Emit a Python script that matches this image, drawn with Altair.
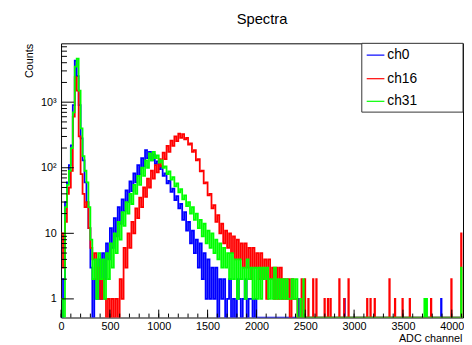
import altair as alt
import pandas as pd

# ---------------- data ----------------
series_names = ["ch0", "ch16", "ch31"]
series_colors = ["#0000ff", "#ff0000", "#00ff00"]
bin_width = 20  # ADC channels per bin, first bin starts at channel 0

ch0_counts = [
    0, 2, 30, 60, 110, 220, 900, 4300, 2500, 900,
    280, 130, 60, 30, 12, 3, 0, 2, 1, 4,
    1, 5, 2, 7, 4, 12, 6, 17, 9, 25,
    14, 33, 22, 45, 30, 62, 44, 82, 60, 110,
    80, 140, 105, 185, 140, 175, 130, 160, 115, 125,
    95, 105, 75, 82, 58, 63, 43, 48, 32, 37,
    24, 28, 16, 21, 11, 15, 7, 11, 5, 8,
    3, 7, 2, 5, 1, 4, 1, 3, 1, 3,
    0, 2, 1, 2, 0, 1, 2, 0, 1, 0,
    2, 1, 0, 1, 2, 0, 1, 1, 0, 1,
]
ch16_counts = [
    10, 3, 15, 40, 50, 90, 600, 2400, 1500, 300,
    80, 40, 25, 30, 12, 6, 4, 5, 2, 3,
    1, 2, 1, 0, 1, 0, 1, 0, 1, 0,
    2, 1, 6, 3, 10, 6, 15, 10, 24, 17,
    35, 25, 50, 36, 68, 50, 90, 68, 110, 85,
    135, 105, 170, 135, 215, 175, 260, 215, 300, 255,
    330, 285, 325, 270, 285, 225, 235, 175, 185, 130,
    135, 88, 90, 58, 60, 38, 40, 24, 27, 15,
    19, 10, 14, 7, 11, 6, 10, 5, 9, 4,
    8, 4, 7, 3, 7, 3, 6, 2, 6, 3,
    5, 2, 5, 2, 4, 1, 4, 2, 3, 1,
    3, 1, 3, 1, 2, 1, 2, 0, 2, 1,
    1, 0,
]
ch31_counts = [
    1, 0, 25, 55, 90, 200, 700, 3500, 4600, 1500,
    400, 150, 90, 60, 25, 8, 2, 4, 1, 5,
    2, 4, 1, 5, 2, 7, 3, 10, 5, 15,
    8, 21, 13, 30, 20, 40, 28, 55, 40, 75,
    55, 100, 75, 130, 100, 165, 130, 175, 140, 155,
    120, 130, 100, 105, 80, 88, 66, 72, 52, 58,
    42, 47, 33, 38, 26, 30, 20, 25, 16, 20,
    12, 16, 9, 14, 7, 11, 6, 10, 5, 8,
    4, 7, 3, 6, 3, 5, 2, 5, 2, 4,
    1, 4, 2, 3, 1, 4, 2, 3, 1, 3,
    1, 3, 1, 3, 2, 3, 1, 2, 1, 3,
    1, 2, 1, 2, 1, 2, 1, 1, 2, 1,
    2, 0,
]

# isolated single-channel hits in the sparse tail: (ADC channel, counts)
ch0_tail = [(2430, 1), (2900, 1), (3890, 1)]
ch16_tail = [
    (2461, 2), (2495, 2), (2530, 1), (2579, 2), (2612, 2), (2696, 1),
    (2730, 1), (2757, 1), (2847, 2), (2897, 1), (2941, 2), (3132, 1),
    (3166, 1), (3209, 1), (3360, 2), (3417, 1), (3494, 1), (3568, 1),
    (3786, 1), (3994, 2), (4095, 10),
]
ch31_tail = [(2450, 1), (2480, 2), (3719, 1), (3742, 1), (4095, 3)]

x_label_values = [0, 500, 1000, 1500, 2000, 2500, 3000, 3500, 4000]
x_minor_values = list(range(0, 4101, 100))
y_label_values = [1, 10, 100, 1000]
y_label_texts = ["1", "10", "10²", "10³"]
y_minor_values = [m * 10 ** e for e in range(0, 4) for m in range(2, 10) if m * 10 ** e < 7900]

# ---------------- layout ----------------
W, H = 409, 279
X_MAX = 4115
Y_DOM = [0.52, 7900]
FONT = "Liberation Sans"
SPIKE = 5

xscale = alt.Scale(domain=[0, X_MAX], nice=False, zero=False)
yscale = alt.Scale(type="log", domain=Y_DOM, nice=False, clamp=True)


def series_frame(counts, tail):
    rows = [(i * bin_width, c) for i, c in enumerate(counts)]
    rows.append((len(counts) * bin_width, 0))
    for a, c in tail:
        rows.append((a, c))
        rows.append((a + SPIKE, 0))
    rows.append((X_MAX, 0))
    df = pd.DataFrame(rows, columns=["adc", "count"])
    df["y"] = df["count"].clip(lower=0.3)
    return df


label_expr = "".join(
    f"datum.value == {v} ? '{t}' : " for v, t in zip(y_label_values, y_label_texts)
) + "''"

x_axis = alt.Axis(
    values=x_label_values, format="d", ticks=False, domain=False, grid=False,
    labelFont=FONT, labelFontSize=11, labelColor="black", labelPadding=3,
    labelFlush=False, labelOverlap=False,
    title="ADC channel", titleFont=FONT, titleFontSize=11, titleFontWeight="normal",
    titleColor="black", titleAnchor="end", titleAlign="right",
    titleBaseline="alphabetic", titleX=W - 1, titleY=24,
)
y_axis = alt.Axis(
    values=y_label_values, labelExpr=label_expr, ticks=False, domain=False, grid=False,
    labelFont=FONT, labelFontSize=11, labelColor="black", labelPadding=5,
    labelOverlap=False, labelFlush=False,
    title="Counts", titleFont=FONT, titleFontSize=11, titleFontWeight="normal",
    titleColor="black", titleAngle=270, titleAlign="right", titleBaseline="alphabetic",
    titleX=-29, titleY=0,
)

X = lambda f: alt.X(f, scale=xscale, axis=x_axis)
Y = lambda f: alt.Y(f, scale=yscale, axis=y_axis)

layers = []
for name, color, counts, tail in zip(
    series_names, series_colors, [ch0_counts, ch16_counts, ch31_counts],
    [ch0_tail, ch16_tail, ch31_tail],
):
    df = series_frame(counts, tail)
    layers.append(
        alt.Chart(df).mark_line(
            interpolate="step-after", color=color, strokeWidth=1.8, clip=True
        ).encode(x=X("adc:Q"), y=Y("y:Q"), order="adc:Q")
    )

# inward ticks (ROOT style)
xmaj = alt.Chart(pd.DataFrame({"adc": x_label_values})).mark_rule(color="black", strokeWidth=1).encode(
    x=X("adc:Q"), y=alt.value(H), y2=alt.value(H - 8))
xmin = alt.Chart(pd.DataFrame({"adc": x_minor_values})).mark_rule(color="black", strokeWidth=1).encode(
    x=X("adc:Q"), y=alt.value(H), y2=alt.value(H - 4))
ymaj = alt.Chart(pd.DataFrame({"y": y_label_values})).mark_rule(color="black", strokeWidth=1).encode(
    y=Y("y:Q"), x=alt.value(0), x2=alt.value(13))
ymin = alt.Chart(pd.DataFrame({"y": y_minor_values})).mark_rule(color="black", strokeWidth=1).encode(
    y=Y("y:Q"), x=alt.value(0), x2=alt.value(6))

# legend box (ROOT TLegend style)
LX0, LX1, LY0, LY1 = 306, 409, 0, 70
row_y = [12, 36, 59]
legend_layers = [
    alt.Chart(pd.DataFrame({"a": [0]})).mark_rect(fill="white", stroke="#333333", strokeWidth=1).encode(
        x=alt.value(LX0), x2=alt.value(LX1), y=alt.value(LY0), y2=alt.value(LY1))
]
for name, color, ry in zip(series_names, series_colors, row_y):
    d = pd.DataFrame({"name": [name]})
    legend_layers.append(
        alt.Chart(d).mark_rule(color=color, strokeWidth=1.2).encode(
            x=alt.value(LX0 + 5), x2=alt.value(LX0 + 23), y=alt.value(ry))
    )
    legend_layers.append(
        alt.Chart(d).mark_text(align="left", baseline="middle", font=FONT, fontSize=14, color="black").encode(
            x=alt.value(LX0 + 26), y=alt.value(ry), text="name:N")
    )

chart = alt.layer(
    *layers, xmin, xmaj, ymin, ymaj, *legend_layers
).properties(
    width=W, height=H,
    title=alt.TitleParams("Spectra", font=FONT, fontSize=15, fontWeight="normal", color="black",
                          anchor="middle", frame="group", offset=4, baseline="alphabetic"),
    autosize=alt.AutoSizeParams(type="none"),
    padding={"left": 54, "top": 33, "right": 1, "bottom": 24},
    background="white",
).configure_view(stroke="black", strokeWidth=1)

chart.save("out.html", embed_options={"renderer": "svg", "actions": False})
